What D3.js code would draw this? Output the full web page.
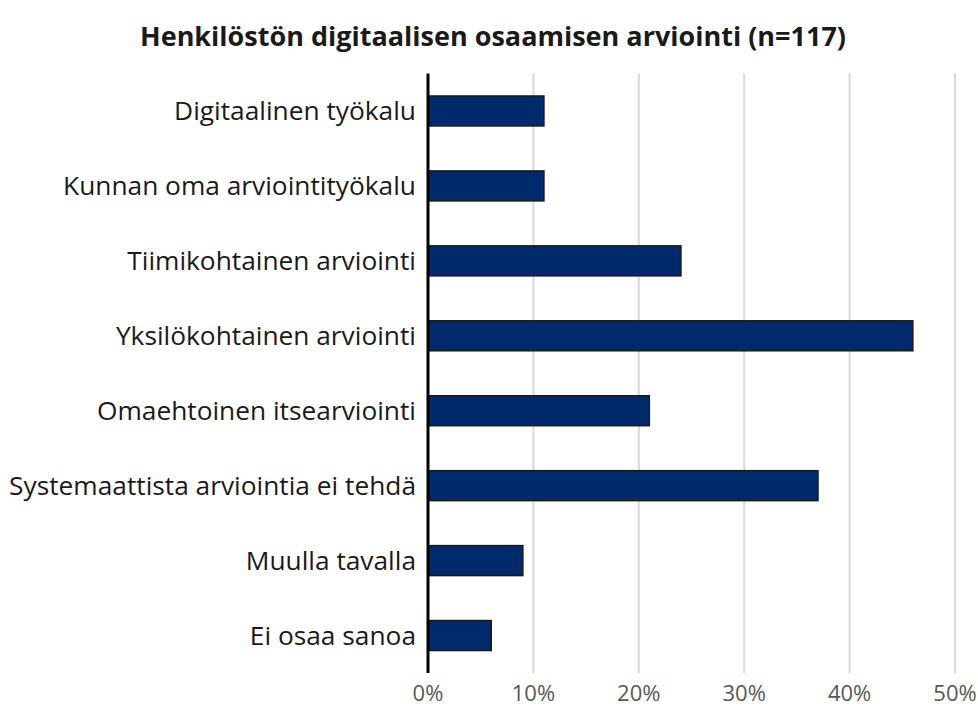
<!DOCTYPE html>
<html><head><meta charset="utf-8">
<script src="https://cdn.jsdelivr.net/npm/d3@7"></script>
<style>body{margin:0;background:#fff;} text{font-family:"Open Sans",Lato,sans-serif;}</style>
</head><body><svg id="c" width="978" height="719"></svg>
<script>
const title = "Henkilöstön digitaalisen osaamisen arviointi (n=117)";
const categories = ["Digitaalinen työkalu","Kunnan oma arviointityökalu","Tiimikohtainen arviointi","Yksilökohtainen arviointi","Omaehtoinen itsearviointi","Systemaattista arviointia ei tehdä","Muulla tavalla","Ei osaa sanoa"];
const values = [11,11,24,46,21,37,9,6];
const ticks = [0,10,20,30,40,50];

const svg = d3.select("#c");
const m = {left:428, right:955, top:73.5, bottom:673};
const x = d3.scaleLinear().domain([0,50]).range([m.left, m.right]);
const y = d3.scaleBand().domain(categories).range([m.top, m.bottom]).paddingInner(0.6).paddingOuter(0.3);

svg.append("text").attr("x",493).attr("y",46).attr("text-anchor","middle")
  .attr("font-size",27).attr("font-weight","bold").attr("fill","#1a1a1a").text(title);

svg.append("g").selectAll("line").data(ticks.slice(1)).join("line")
  .attr("x1",d=>x(d)).attr("x2",d=>x(d)).attr("y1",m.top).attr("y2",m.bottom)
  .attr("stroke","#d9d9d9").attr("stroke-width",2);

svg.append("g").selectAll("rect").data(values).join("rect")
  .attr("x",x(0)).attr("y",(d,i)=>y(categories[i]))
  .attr("width",d=>x(d)-x(0)).attr("height",y.bandwidth())
  .attr("fill","#002a6b").attr("stroke","#1a1a1a").attr("stroke-width",1.5);

svg.append("line").attr("x1",x(0)).attr("x2",x(0)).attr("y1",m.top).attr("y2",m.bottom)
  .attr("stroke","#000").attr("stroke-width",3);

svg.append("g").selectAll("text").data(categories).join("text")
  .attr("x",416).attr("y",d=>y(d)+y.bandwidth()/2).attr("dy","0.35em")
  .attr("text-anchor","end").attr("font-size",26.3).attr("fill","#1a1a1a").text(d=>d);

svg.append("g").selectAll("text").data(ticks).join("text")
  .attr("x",d=>x(d)).attr("y",701).attr("text-anchor","middle")
  .attr("font-size",22).attr("fill","#595959").text(d=>d+"%");
</script></body></html>
